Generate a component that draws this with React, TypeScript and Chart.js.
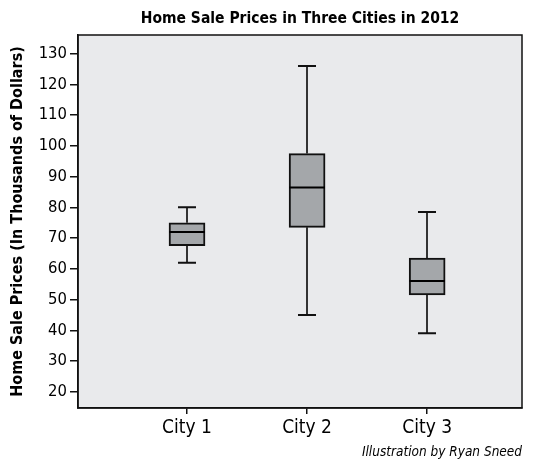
import React, { useEffect, useRef } from "react";
import { Chart, registerables } from "chart.js";

Chart.register(...registerables);

const cities = ["City 1", "City 2", "City 3"];
const positions = [1, 2, 3];
const minVals = [62, 45, 39];
const q1Vals = [67.5, 73.5, 51.5];
const medianVals = [72, 86.5, 56];
const q3Vals = [75, 97.5, 63.5];
const maxVals = [80, 126, 78.5];
const yTicks = [20, 30, 40, 50, 60, 70, 80, 90, 100, 110, 120, 130];

const titleText = "Home Sale Prices in Three Cities in 2012";
const yTitleText = "Home Sale Prices (In Thousands of Dollars)";
const captionText = "Illustration by Ryan Sneed";

const FONT = "'DejaVu Sans Condensed', 'DejaVu Sans', sans-serif";

const boxPlotPlugin = {
  id: "boxPlotExtras",
  beforeDraw(chart: any) {
    const { ctx, chartArea } = chart;
    ctx.save();
    ctx.fillStyle = "#e9eaec";
    ctx.fillRect(chartArea.left, chartArea.top, chartArea.right - chartArea.left, chartArea.bottom - chartArea.top);
    ctx.restore();
  },
  beforeDatasetsDraw(chart: any) {
    const { ctx, scales } = chart;
    const xs = scales.x;
    const ys = scales.y;
    ctx.save();
    ctx.lineWidth = 2;
    positions.forEach((p, i) => {
      const cx = Math.round(xs.getPixelForValue(p));
      const capHalf = (xs.getPixelForValue(p + 0.075) - xs.getPixelForValue(p - 0.075)) / 2;
      const yMin = ys.getPixelForValue(minVals[i]);
      const yQ1 = ys.getPixelForValue(q1Vals[i]);
      const yQ3 = ys.getPixelForValue(q3Vals[i]);
      const yMax = ys.getPixelForValue(maxVals[i]);
      ctx.strokeStyle = "#333";
      ctx.beginPath();
      ctx.moveTo(cx, yQ3);
      ctx.lineTo(cx, yMax);
      ctx.moveTo(cx, yQ1);
      ctx.lineTo(cx, yMin);
      ctx.stroke();
      ctx.strokeStyle = "#111";
      ctx.beginPath();
      ctx.moveTo(cx - capHalf, yMax);
      ctx.lineTo(cx + capHalf, yMax);
      ctx.moveTo(cx - capHalf, yMin);
      ctx.lineTo(cx + capHalf, yMin);
      ctx.stroke();
    });
    ctx.restore();
  },
  afterDatasetsDraw(chart: any) {
    const { ctx, scales, chartArea } = chart;
    const xs = scales.x;
    const ys = scales.y;
    ctx.save();
    ctx.lineWidth = 2;
    ctx.strokeStyle = "#000";
    positions.forEach((p, i) => {
      const half = (xs.getPixelForValue(p + 0.148) - xs.getPixelForValue(p - 0.148)) / 2;
      const cx = xs.getPixelForValue(p);
      const ym = ys.getPixelForValue(medianVals[i]);
      ctx.beginPath();
      ctx.moveTo(cx - half, ym);
      ctx.lineTo(cx + half, ym);
      ctx.stroke();
    });
    ctx.lineWidth = 1.5;
    ctx.strokeStyle = "#111";
    ctx.strokeRect(chartArea.left, chartArea.top, chartArea.right - chartArea.left, chartArea.bottom - chartArea.top);
    ctx.restore();
  },
  afterDraw(chart: any) {
    const { ctx, chartArea } = chart;
    ctx.save();
    ctx.fillStyle = "#000";
    ctx.font = `bold 15.5px ${FONT}`;
    ctx.textAlign = "center";
    ctx.textBaseline = "middle";
    ctx.fillText(titleText, (chartArea.left + chartArea.right) / 2, 19);
    ctx.font = `italic 13.5px ${FONT}`;
    ctx.textAlign = "right";
    ctx.fillText(captionText, chartArea.right, 452);
    ctx.restore();
  },
};

export default function App() {
  const canvasRef = useRef<HTMLCanvasElement | null>(null);

  useEffect(() => {
    document.body.style.margin = "0";
    const canvas = canvasRef.current;
    if (!canvas) return;
    const chart = new Chart(canvas, {
      type: "bar",
      data: {
        datasets: [
          {
            data: positions.map((p, i) => ({ x: p, y: [q1Vals[i], q3Vals[i]] })) as any,
            backgroundColor: "#a4a7aa",
            borderColor: "#111",
            borderWidth: 2,
            borderSkipped: false,
            barThickness: 36,
          },
        ],
      },
      options: {
        responsive: false,
        animation: false,
        devicePixelRatio: 1,
        layout: { padding: { top: 35, right: 18, bottom: 0, left: 0 } },
        plugins: {
          legend: { display: false },
          tooltip: { enabled: false },
          title: { display: false },
        },
        scales: {
          x: {
            type: "linear",
            offset: false,
            min: 0.092,
            max: 3.79,
            afterBuildTicks: (axis: any) => {
              axis.ticks = positions.map((v) => ({ value: v }));
            },
            afterFit: (scale: any) => {
              scale.height = 58;
            },
            grid: { offset: false, drawOnChartArea: false, drawTicks: true, tickLength: 6, color: "#111", lineWidth: 1.5 },
            border: { display: true, color: "#111", width: 1.5 },
            ticks: {
              padding: 3,
              color: "#000",
              font: { family: FONT, size: 19 },
              maxRotation: 0,
              autoSkip: false,
              callback: (v: any) => {
                const idx = positions.indexOf(Number(v));
                return idx >= 0 ? cities[idx] : "";
              },
            },
          },
          y: {
            type: "linear",
            min: 14.7,
            max: 136.1,
            afterBuildTicks: (axis: any) => {
              axis.ticks = yTicks.map((v) => ({ value: v }));
            },
            afterFit: (scale: any) => {
              scale.width = 78;
            },
            grid: { drawOnChartArea: false, drawTicks: true, tickLength: 8, color: "#111", lineWidth: 1.5 },
            border: { display: true, color: "#111", width: 1.5 },
            ticks: {
              padding: 3,
              color: "#000",
              font: { family: FONT, size: 16.5 },
              autoSkip: false,
            },
            title: {
              display: true,
              text: yTitleText,
              color: "#000",
              font: { family: FONT, size: 16, weight: "bold" },
              padding: { top: 8, bottom: 0 },
            },
          },
        },
      },
      plugins: [boxPlotPlugin],
    } as any);
    return () => chart.destroy();
  }, []);

  return (
    <div style={{ width: 540, height: 466 }}>
      <canvas ref={canvasRef} width={540} height={466} style={{ display: "block" }} />
    </div>
  );
}
